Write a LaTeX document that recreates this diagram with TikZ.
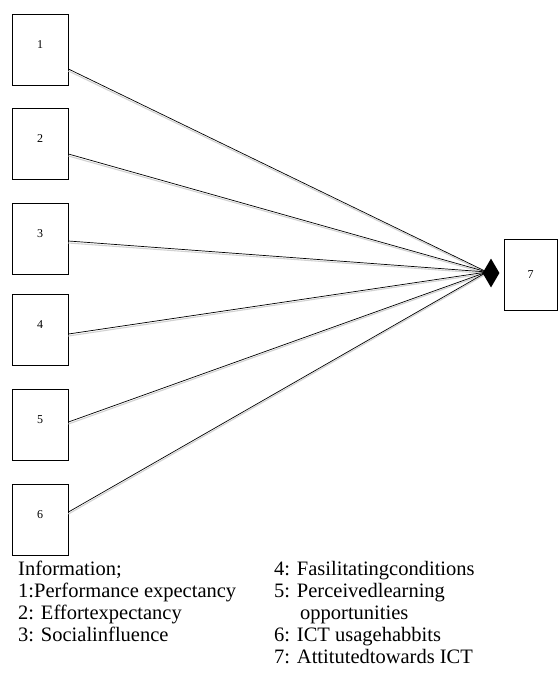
\documentclass[tikz,border=0pt]{standalone}
\usepackage{fontspec}
\setmainfont{Liberation Serif}
\usetikzlibrary{shapes.geometric}

\begin{document}
\begin{tikzpicture}[x=1pt,y=-1pt,
  factor/.style={draw=black,line width=0.9pt,fill=white,minimum width=56pt,minimum height=71pt,inner sep=0pt},
  link/.style={black,line width=0.7pt},
  shade/.style={gray!35,line width=1.1pt},
  legend/.style={anchor=north west,align=left,inner sep=0pt,font=\fontsize{20.5}{22}\selectfont}]
\useasboundingbox (0,0) rectangle (558,681);

\def\lbl{\fontsize{12}{14}\selectfont}

\node[factor, label={[yshift=5pt]center:{\lbl 1}}] (b1) at (40,49.5) {};
\node[factor, label={[yshift=5pt]center:{\lbl 2}}] (b2) at (40,143.5) {};
\node[factor, label={[yshift=5pt]center:{\lbl 3}}] (b3) at (40,239) {};
\node[factor, label={[yshift=5pt]center:{\lbl 4}}] (b4) at (40,330) {};
\node[factor, label={[yshift=5pt]center:{\lbl 5}}] (b5) at (40,424.5) {};
\node[factor, label={[yshift=5pt]center:{\lbl 6}}] (b6) at (40,519.5) {};

\node[factor, minimum width=53pt, label={center:{\lbl 7}}] (b7) at (530.5,275) {};
\coordinate (hub) at (487,272);

% links with their light shadow
\foreach \i/\dy in {1/-19.5,2/-10.5,3/-2,4/-4,5/2.5,6/7.5}{
  \draw[shade] ([yshift=\dy pt-2pt]b\i.east) -- ([yshift=-1.5pt]hub);
  \draw[link] ([yshift=\dy pt]b\i.east) -- (hub);
}

\node[diamond,fill=black,minimum width=17pt,minimum height=29pt,inner sep=0pt] (tip) at (491,273) {};

\node[legend] (infoA) at (18,561) {Information;\\1:Performance expectancy\\2: Effortexpectancy\\3: Socialinfluence};
\node[legend] (infoB) at (274,561) {4: Fasilitatingconditions\\5: Perceivedlearning\\\hspace*{26pt}opportunities\\6: ICT usagehabbits\\7: Attitutedtowards ICT};

\end{tikzpicture}
\end{document}
